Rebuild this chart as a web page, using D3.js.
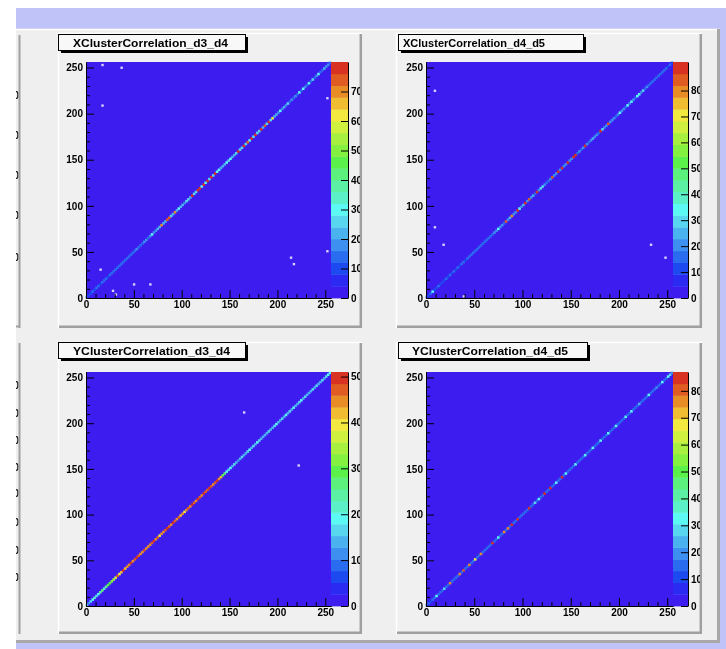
<!DOCTYPE html>
<html><head><meta charset="utf-8">
<script src="https://cdn.jsdelivr.net/npm/d3@7"></script>
<style>body{margin:0;background:#fff}svg{display:block}</style>
</head><body><svg id="c" width="726" height="649"></svg>
<script>
// ---------------- data ----------------
const titles = ["XClusterCorrelation_d3_d4","XClusterCorrelation_d4_d5","YClusterCorrelation_d3_d4","YClusterCorrelation_d4_d5"];
const zMax = [80, 91, 51, 87];
const zTicks = [[0,10,20,30,40,50,60,70],[0,10,20,30,40,50,60,70,80],[0,10,20,30,40,50],[0,10,20,30,40,50,60,70,80]];
const axisMajor = [0,50,100,150,200,250];
const axisMinor = [10,20,30,40,60,70,80,90,110,120,130,140,160,170,180,190,210,220,230,240];
const binWidth = 2;
// diagonal bin contents (bin i covers [2i, 2i+2) on both axes)
const diagXd3d4 = [8,10,11,12,10,12,13,11,12,14,12,11,13,12,14,13,12,14,13,15,13,14,12,15,14,13,16,14,15,14,17,16,
 15,17,30,16,18,20,22,70, 20,22,72,74,24,20,70,22, 30,22,20,18,24,26,22,78, 24,26,78,78,30,77,28,79,
 26,76,24,78,28,30,22,20, 22,28,24,30,20,22,26,78, 24,24,78,26,72,28,78,26, 78,24,26,76,22,72,24,76,
 24,62,22,20,18,30,16,20, 16,26,14,16,14,18,14,28, 14,30,16,14,28,14,26,14, 16,28,14,14,22,16,18,14];
const diagXd4d5 = [10,12,14,32,13,12,14,12, 13,12,14,13,15,12,14,13, 14,13,15,14,13,16,14,15, 15,14,16,15,17,15,16,18,
 16,18,17,20,19,34,19,20, 18,82,20,24,80,22,20,88, 34,22,24,90,20,84,22,24, 18,88,20,30,30,20,16,18,
 22,84,20,22,89,22,88,20, 22,88,20,22,89,90,18,20, 18,20,88,20,18,22,26,20, 20,18,88,30,20,20,82,22,
 20,22,18,20,34,22,20,18, 32,20,32,20,18,32,33,20, 30,18,20,16,16,18,15,17, 15,14,16,14,15,13,14,12];
const diagYd3d4 = [14,12,16,18,22,16,18,24, 26,22,24,30,30,32,34,36, 46,40,42,49,42,44,44,50, 44,46,49,46,44,45,46,44,
 45,44,46,49,44,46,39,44, 44,46,49,46,44,49,46,45, 46,42,44,39,44,46,44,49, 46,44,49,46,44,49,46,46,
 49,46,44,46,50,44,42,30, 28,19,16,18,15,16,14,12, 14,16,15,14,16,19,15,16, 15,19,16,15,14,13,15,16,
 15,14,16,19,15,14,16,15, 19,15,16,14,19,15,14,16, 19,15,16,14,13,14,16,15, 16,15,14,16,15,16,18,20];
const diagYd4d5 = [12,14,13,15,14,32,16,17, 16,28,16,16,76,16,17,16, 16,76,17,80,16,16,74,17, 16,68,16,17,76,16,15,17,
 16,17,84,16,17,32,16,17, 76,16,78,17,84,16,17,84, 16,17,15,16,17,83,16,17, 30,16,32,17,16,84,17,16,
 84,16,17,32,16,17,84,16, 32,16,15,17,16,33,15,16, 15,16,32,17,15,16,31,16, 15,16,32,15,16,16,32,15,
 16,15,33,16,15,16,15,32, 16,15,32,16,15,16,24,15, 15,16,15,32,16,15,16,18, 15,16,32,15,16,31,28,20];
const diagData = [diagXd3d4, diagXd4d5, diagYd3d4, diagYd4d5];
// isolated off-diagonal entries [x, y]
const strayXd3d4 = [[16,252],[36,249],[16,208],[213,43],[216,36],[251,50],[66,14],[49,14],[27,7],[14,30],[251,216],[30,3]];
const strayXd4d5 = [[8,224],[8,76],[17,57],[232,57],[247,43],[38,1]];
const strayYd3d4 = [[164,211],[221,153]];
const strayYd4d5 = [];
const strayData = [strayXd3d4, strayXd4d5, strayYd3d4, strayYd4d5];
// cut-off palette labels of the pads to the left
const leftTopLabels = ["50","40","30","20","10"];
const leftTopY = [95,135,175,215,257];
const leftBotLabels = ["80","70","60","50","40","30","20","10"];
const leftBotY = [385,413,440,467,493,522,550,577];
// colour palette (20 contour levels, low -> high)
const paletteColors = ["#3c1ef0","#2a2cf2","#1f48f0","#2a6cf0","#3c90f0","#4cb2f0","#58d6f0","#5cf8f4",
 "#5cf0c8","#5cf0a4","#5cf07c","#5cf04c","#84f040","#a8f040","#d0f040","#f2e840","#f0bc32","#e88c28","#e05c20","#d83020"];

// ---------------- layout ----------------
const pads = [
 {x0:58,y0:33,x1:362,y1:328, fx:86,fy:62,fw:245,fh:236, pw:17, box:[58,34,245,50], tx:73, tl:155},
 {x0:396,y0:33,x1:702,y1:328, fx:426,fy:62,fw:247,fh:236, pw:15, box:[398,34,583,50], tx:403, tl:142},
 {x0:58,y0:342,x1:362,y1:634, fx:86,fy:372,fw:245,fh:234, pw:17, box:[58,342,245,358], tx:73, tl:157},
 {x0:396,y0:342,x1:702,y1:634, fx:426,fy:372,fw:247,fh:234, pw:15, box:[398,342,587,358], tx:412, tl:156}
];
const FONT = "'Liberation Sans', Arial, Helvetica, sans-serif";

const root = d3.select("#c");
const defs = root.append("defs");
defs.append("filter").attr("id","soft").attr("x",0).attr("y",0).attr("width",1).attr("height",1)
  .append("feGaussianBlur").attr("stdDeviation",0.35);
const svg = root.append("g").attr("filter","url(#soft)");
svg.append("rect").attr("width",726).attr("height",649).attr("fill","#ffffff");
svg.append("rect").attr("x",16).attr("y",8).attr("width",710).attr("height",641).attr("fill","#c0c3f7");
// canvas
svg.append("rect").attr("x",16).attr("y",29).attr("width",704).attr("height",614).attr("fill","#efefef");
svg.append("line").attr("x1",16).attr("x2",720).attr("y1",29.5).attr("y2",29.5).attr("stroke","#ffffff").attr("stroke-width",1.5);
svg.append("line").attr("x1",718.5).attr("x2",718.5).attr("y1",29).attr("y2",643).attr("stroke","#a8a8a8").attr("stroke-width",3);
svg.append("line").attr("x1",16).attr("x2",720).attr("y1",641.5).attr("y2",641.5).attr("stroke","#a8a8a8").attr("stroke-width",3);

// partial pads on the left
defs.append("clipPath").attr("id","leftclip").append("rect").attr("x",16).attr("y",0).attr("width",2.8).attr("height",649);
const lg = svg.append("g").attr("clip-path","url(#leftclip)").attr("font-family",FONT).attr("font-size",10).attr("font-weight","bold");
lg.selectAll("text.t").data(leftTopLabels).join("text").attr("class","t").attr("x",8).attr("y",(d,i)=>leftTopY[i]+3.5).text(d=>d).attr("fill","#111");
lg.selectAll("text.b").data(leftBotLabels).join("text").attr("class","b").attr("x",8).attr("y",(d,i)=>leftBotY[i]+3.5).text(d=>d).attr("fill","#111");
svg.append("line").attr("x1",19.5).attr("x2",19.5).attr("y1",35).attr("y2",328).attr("stroke","#a0a0a0").attr("stroke-width",2);
svg.append("line").attr("x1",16).attr("x2",20).attr("y1",326.5).attr("y2",326.5).attr("stroke","#a0a0a0").attr("stroke-width",2);
svg.append("line").attr("x1",19.5).attr("x2",19.5).attr("y1",343).attr("y2",634).attr("stroke","#a0a0a0").attr("stroke-width",2);

pads.forEach((p, k) => {
  const g = svg.append("g");
  defs.append("clipPath").attr("id","pc"+k).append("rect").attr("x",p.x0).attr("y",p.y0).attr("width",p.x1-p.x0-2).attr("height",p.y1-p.y0-2);
  // pad background & bevel
  g.append("rect").attr("x",p.x0).attr("y",p.y0).attr("width",p.x1-p.x0).attr("height",p.y1-p.y0).attr("fill","#f0f0f0");
  g.append("path").attr("d",`M${p.x0+0.5},${p.y1}V${p.y0+0.5}H${p.x1}`).attr("fill","none").attr("stroke","#ffffff").attr("stroke-width",1.5);
  g.append("path").attr("d",`M${p.x0+1},${p.y1-1.2}H${p.x1-1.2}V${p.y0+1}`).attr("fill","none").attr("stroke","#a0a0a0").attr("stroke-width",2.5);

  const inner = g.append("g").attr("clip-path",`url(#pc${k})`);
  const x = d3.scaleLinear().domain([0,256]).range([p.fx, p.fx+p.fw]);
  const y = d3.scaleLinear().domain([0,256]).range([p.fy+p.fh, p.fy]);
  const color = d3.scaleQuantize().domain([0, zMax[k]]).range(paletteColors);
  const z = d3.scaleLinear().domain([0, zMax[k]]).range([p.fy+p.fh, p.fy]);

  // frame background
  inner.append("rect").attr("x",p.fx).attr("y",p.fy).attr("width",p.fw).attr("height",p.fh).attr("fill",paletteColors[0]);
  // diagonal cells
  const pad = 0.35;
  inner.append("g").selectAll("rect").data(diagData[k]).join("rect")
    .attr("x",(d,i)=>x(i*binWidth)-pad).attr("width",(d,i)=>x((i+1)*binWidth)-x(i*binWidth)+2*pad)
    .attr("y",(d,i)=>y((i+1)*binWidth)-pad).attr("height",(d,i)=>y(i*binWidth)-y((i+1)*binWidth)+2*pad)
    .attr("fill",d=>color(d));
  // stray cells
  inner.append("g").selectAll("rect").data(strayData[k]).join("rect")
    .attr("x",d=>x(d[0])).attr("y",d=>y(d[1]+binWidth))
    .attr("width",x(binWidth)-x(0)+0.5).attr("height",y(0)-y(binWidth)+0.5)
    .attr("fill","#d8d2ff");
  // palette
  const levels = d3.range(20);
  inner.append("g").selectAll("rect").data(levels).join("rect")
    .attr("x",p.fx+p.fw).attr("width",p.pw)
    .attr("y",l=>z((l+1)*zMax[k]/20)).attr("height",l=>z(l*zMax[k]/20)-z((l+1)*zMax[k]/20)+0.4)
    .attr("fill",l=>paletteColors[l]);

  const styleAxis = sel => {
    sel.attr("font-family",FONT).attr("font-size",10).attr("font-weight","bold");
    sel.selectAll("text").attr("fill","#000");
    sel.selectAll("line").attr("stroke","#000");
    sel.select(".domain").attr("stroke","#000");
  };
  // y axis
  inner.append("g").attr("transform",`translate(${p.fx},0)`)
    .call(d3.axisLeft(y).tickValues(axisMinor).tickSize(-4).tickFormat("").tickSizeOuter(0)).call(styleAxis);
  inner.append("g").attr("transform",`translate(${p.fx},0)`)
    .call(d3.axisLeft(y).tickValues(axisMajor).tickSize(-8).tickPadding(3).tickSizeOuter(0)).call(styleAxis);
  // x axis
  inner.append("g").attr("transform",`translate(0,${p.fy+p.fh})`)
    .call(d3.axisBottom(x).tickValues(axisMinor).tickSize(-4).tickFormat("").tickSizeOuter(0)).call(styleAxis);
  inner.append("g").attr("transform",`translate(0,${p.fy+p.fh})`)
    .call(d3.axisBottom(x).tickValues(axisMajor).tickSize(-8).tickPadding(3).tickSizeOuter(0)).call(styleAxis);
  // palette axis
  inner.append("g").attr("transform",`translate(${p.fx+p.fw+p.pw},0)`)
    .call(d3.axisRight(z).tickValues(zTicks[k]).tickSize(-7).tickPadding(3).tickSizeOuter(0)).call(styleAxis);

  // title box
  const b = p.box;
  g.append("rect").attr("x",b[0]+3).attr("y",b[1]+3).attr("width",b[2]-b[0]).attr("height",b[3]-b[1]).attr("fill","#000");
  g.append("rect").attr("x",b[0]+0.5).attr("y",b[1]+0.5).attr("width",b[2]-b[0]).attr("height",b[3]-b[1]).attr("fill","#f8f8f8").attr("stroke","#000").attr("stroke-width",1);
  g.append("text").attr("x",p.tx).attr("y",(b[1]+b[3])/2+4.5).text(titles[k])
    .attr("font-family",FONT).attr("font-size",10.5).attr("font-weight","bold").attr("fill","#000")
    .attr("textLength",p.tl).attr("lengthAdjust","spacingAndGlyphs");
});
</script></body></html>
